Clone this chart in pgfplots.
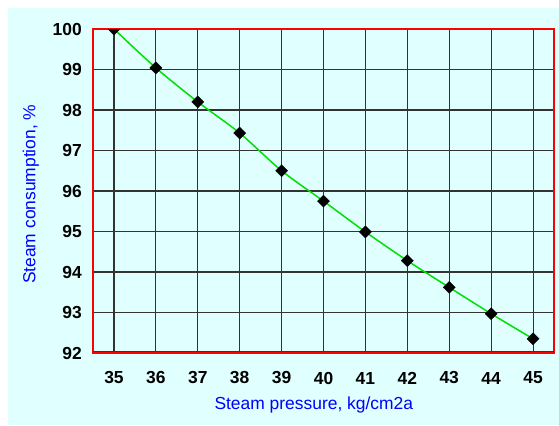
\documentclass[border=0pt]{standalone}
\usepackage{pgfplots}
\pgfplotsset{compat=1.18}
\usepackage{fontspec}
\setmainfont{Liberation Sans}
\definecolor{bgcyan}{RGB}{224,255,255}
\definecolor{lgreen}{RGB}{0,224,0}
\begin{document}
\begin{tikzpicture}[x=1bp,y=1bp]
\useasboundingbox (0,0) rectangle (559,425);
\fill[white] (0,0) rectangle (559,425);
\fill[bgcyan] (8,0) rectangle (559,417);
\begin{axis}[
  at={(93bp,72bp)}, anchor=south west,
  scale only axis, width=461bp, height=324bp,
  xmin=34.5, xmax=45.5, ymin=92, ymax=100,
  xtick={35,36,37,38,39,40,41,42,43,44,45},
  ytick={92,93,94,95,96,97,98,99,100},
  grid=major, major grid style={black!80, line width=1.1bp},
  axis line style={red, line width=1.5bp},
  major tick length=0pt,
  clip marker paths=true,
  /pgf/number format/assume math mode=true,
  tick label style={font=\fontsize{17.5}{19}\selectfont\bfseries, inner sep=0pt},
  xticklabel style={anchor=center, yshift=-25bp},
  yticklabel style={anchor=east, xshift=-11bp},
  xlabel={Steam pressure, kg/cm2a},
  ylabel={Steam consumption, \%},
  label style={font=\fontsize{17.5}{20}\selectfont, text=blue},
  xlabel style={at={(axis description cs:0.479,-0.16)}, anchor=center},
  ylabel style={at={(axis description cs:-0.135,0.49)}, anchor=center},
]
\addplot[lgreen, line width=1.5bp, smooth, mark=square*, mark size=4.3bp,
  mark options={black, fill=black, solid, rotate=45, line width=0.3bp}] coordinates {
  (35,100) (36,99.04) (37,98.2) (38,97.43) (39,96.5) (40,95.75)
  (41,94.99) (42,94.28) (43,93.62) (44,92.97) (45,92.35)
};
\draw[black!80, line width=1.2bp] ([yshift=1.2bp]rel axis cs:0,0) -- ([yshift=1.2bp]rel axis cs:1,0);
\end{axis}
\end{tikzpicture}
\end{document}
